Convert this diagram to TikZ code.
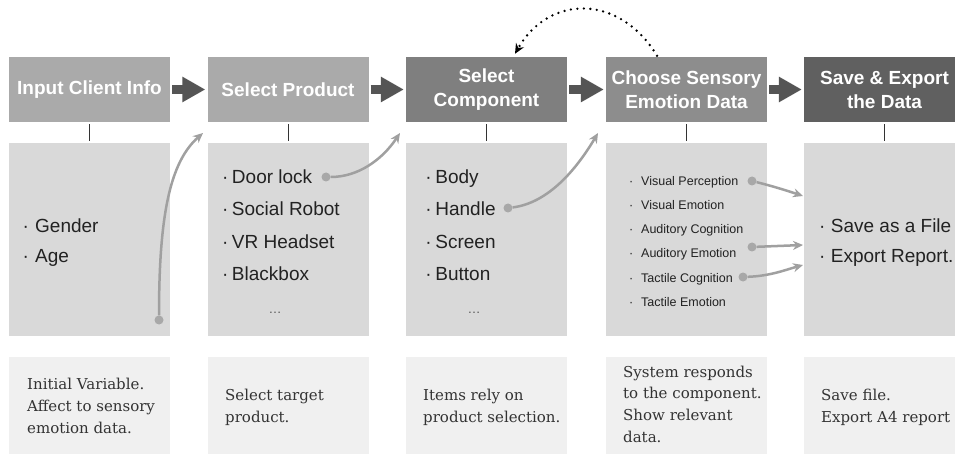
\documentclass[tikz,border=0pt]{standalone}
\usepackage{fontspec}
\setmainfont{DejaVu Serif}
\newfontfamily\hsans{Liberation Sans}
\usetikzlibrary{arrows.meta}
\definecolor{hA}{HTML}{AAAAAA}
\definecolor{hC}{HTML}{7F7F7F}
\definecolor{hD}{HTML}{8D8D8D}
\definecolor{hE}{HTML}{606060}
\definecolor{midfill}{HTML}{D9D9D9}
\definecolor{botfill}{HTML}{F0F0F0}
\definecolor{blockcol}{HTML}{555555}
\definecolor{gline}{HTML}{A0A0A0}
\definecolor{gdotcol}{HTML}{A8A8A8}
\definecolor{itemtext}{HTML}{222222}
\definecolor{bottext}{HTML}{333333}
\newcommand\itm[2][12pt]{\makebox[#1][l]{·}#2}
\begin{document}
\begin{tikzpicture}[x=1pt,y=-1pt,
  head/.style={fill=#1, minimum width=161pt, minimum height=65pt, inner sep=0pt,
    text=white, font=\hsans\bfseries\fontsize{19}{24}\selectfont, align=center},
  midbox/.style={fill=midfill, minimum width=161pt, minimum height=193pt, inner sep=0pt},
  botbox/.style={fill=botfill, minimum width=161pt, minimum height=104pt, inner sep=0pt},
  bigitem/.style={anchor=base west, inner sep=0pt, text=itemtext, font=\hsans\fontsize{19}{19}\selectfont},
  smallitem/.style={anchor=base west, inner sep=0pt, text=itemtext, font=\hsans\fontsize{12.5}{12.5}\selectfont},
  moreitems/.style={anchor=base, inner sep=0pt, text=blockcol, font=\hsans\fontsize{13}{13}\selectfont},
  botline/.style={anchor=base west, inner sep=0pt, text=bottext, font=\fontsize{15}{15}\selectfont},
  blockarrow/.style={draw=blockcol, line width=9pt, shorten <=2pt, shorten >=2pt,
    -{Triangle[length=23pt,width=24pt]}},
  tickline/.style={draw=black!80, line width=1pt, shorten <=2pt, shorten >=2pt},
  garrow/.style={draw=gline, line width=2.5pt, -{Stealth[length=10pt,width=9pt]}},
  gdot/.style={circle, fill=gdotcol, minimum size=9pt, inner sep=0pt},
  dotarrow/.style={draw=black, line width=2.6pt, dash pattern=on 0pt off 6.5pt, line cap=round,
    -{Stealth[length=10pt,width=9pt]}}
]
\clip (0,0) rectangle (955,454);
\fill[white] (0,0) rectangle (955,454);

% header boxes
\node[head=hA] (h1) at (89.5,89.5) {Input Client Info};
\node[head=hA] (h2) at (288,89.5) {Select Product};
\node[head=hC] (h3) at (486.5,89.5) {Select\\Component};
\node[head=hD] (h4) at (686.5,89.5) {Choose Sensory\\Emotion Data};
\node[head=hE] (h5) at (884.5,89.5) {Save \& Export\\the Data};

% middle boxes
\node[midbox] (m1) at (89.5,239.5) {};
\node[midbox] (m2) at (288,239.5) {};
\node[midbox] (m3) at (486.5,239.5) {};
\node[midbox] (m4) at (686.5,239.5) {};
\node[midbox] (m5) at (884.5,239.5) {};

% bottom boxes
\node[botbox] (b1) at (89.5,409) {};
\node[botbox] (b2) at (288,409) {};
\node[botbox] (b3) at (486.5,409) {};
\node[botbox] (b4) at (686.5,409) {};
\node[botbox] (b5) at (884.5,409) {};

% block arrows
\draw[blockarrow] (h1) -- (h2);
\draw[blockarrow] (h2) -- (h3);
\draw[blockarrow] (h3) -- (h4);
\draw[blockarrow] (h4) -- (h5);

% tick lines
\draw[tickline] (h1.south) -- (m1.north);
\draw[tickline] (h2.south) -- (m2.north);
\draw[tickline] (h3.south) -- (m3.north);
\draw[tickline] (h4.south) -- (m4.north);
\draw[tickline] (h5.south) -- (m5.north);

% items box 1
\node[bigitem] (i1a) at (22.4,233) {\itm[12.6pt]{Gender}};
\node[bigitem] (i1b) at (22.4,262) {\itm[12.6pt]{Age}};
% items box 2
\node[bigitem] (i2a) at (221.8,184) {\itm[10pt]{Door lock}};
\node[bigitem] (i2b) at (221.8,216) {\itm[10pt]{Social Robot}};
\node[bigitem] (i2c) at (221.8,248) {\itm[10pt]{VR Headset}};
\node[bigitem] (i2d) at (221.8,280) {\itm[10pt]{Blackbox}};
\node[moreitems] (i2e) at (275,313) {\dots};
% items box 3
\node[bigitem] (i3a) at (425.1,184) {\itm[10.1pt]{Body}};
\node[bigitem] (i3b) at (425.1,216) {\itm[10.1pt]{Handle}};
\node[bigitem] (i3c) at (425.1,248) {\itm[10.1pt]{Screen}};
\node[bigitem] (i3d) at (425.1,280) {\itm[10.1pt]{Button}};
\node[moreitems] (i3e) at (474,313) {\dots};
% items box 4
\node[smallitem] (i4a) at (628.8,186) {\itm[12.2pt]{Visual Perception}};
\node[smallitem] (i4b) at (628.8,210) {\itm[12.2pt]{Visual Emotion}};
\node[smallitem] (i4c) at (628.8,234) {\itm[12.2pt]{Auditory Cognition}};
\node[smallitem] (i4d) at (628.8,258) {\itm[12.2pt]{Auditory Emotion}};
\node[smallitem] (i4e) at (628.8,282) {\itm[12.2pt]{Tactile Cognition}};
\node[smallitem] (i4f) at (628.8,306) {\itm[12.2pt]{Tactile Emotion}};
% items box 5
\node[bigitem] (i5a) at (819,233) {\itm[11.7pt]{Save as a File}};
\node[bigitem] (i5b) at (819,262) {\itm[11.7pt]{Export Report.}};

% bottom texts
\node[botline] (t1a) at (27,389) {Initial Variable.};
\node[botline] (t1b) at (27,411) {Affect to sensory};
\node[botline] (t1c) at (27,433) {emotion data.};
\node[botline] (t2a) at (225,400) {Select target};
\node[botline] (t2b) at (225,422) {product.};
\node[botline] (t3a) at (423,400) {Items rely on};
\node[botline] (t3b) at (423,422) {product selection.};
\node[botline] (t4a) at (623,377) {System responds};
\node[botline] (t4b) at (623,398) {to the component.};
\node[botline] (t4c) at (623,420) {Show relevant};
\node[botline] (t4d) at (623,442) {data.};
\node[botline] (t5a) at (821,400) {Save file.};
\node[botline] (t5b) at (821,422) {Export A4 report};

% dots
\node[gdot] (d1) at (159,320) {};
\node[gdot] (d2) at (326,177) {};
\node[gdot] (d3) at (508,208) {};
\node[gdot] (d4) at (752,181) {};
\node[gdot] (d5) at (752,247) {};
\node[gdot] (d6) at (743,277) {};

% arrow end points
\coordinate (e1) at (203,133);
\coordinate (e2) at (400,133);
\coordinate (e3) at (598,133);
\coordinate (e4) at (803,196);
\coordinate (e5) at (803,245);
\coordinate (e6) at (803,265);

\draw[garrow] (d1) .. controls (159,215) and (170,162) .. (e1);
\draw[garrow] (d2) .. controls (358,177) and (382,160) .. (e2);
\draw[garrow] (d3) .. controls (548,203) and (576,170) .. (e3);
\draw[garrow] (d4) .. controls (772,186) and (785,190) .. (e4);
\draw[garrow] (d5) -- (e5);
\draw[garrow] (d6) .. controls (770,276) and (785,270) .. (e6);

% dotted feedback arrow
\coordinate (ds) at ([xshift=-29.5pt,yshift=1pt]h4.north);
\coordinate (de) at ([xshift=28.5pt,yshift=3pt]h3.north);
\draw[dotarrow] (ds) .. controls (620,-6) and (549,-6) .. (de);
\end{tikzpicture}
\end{document}
